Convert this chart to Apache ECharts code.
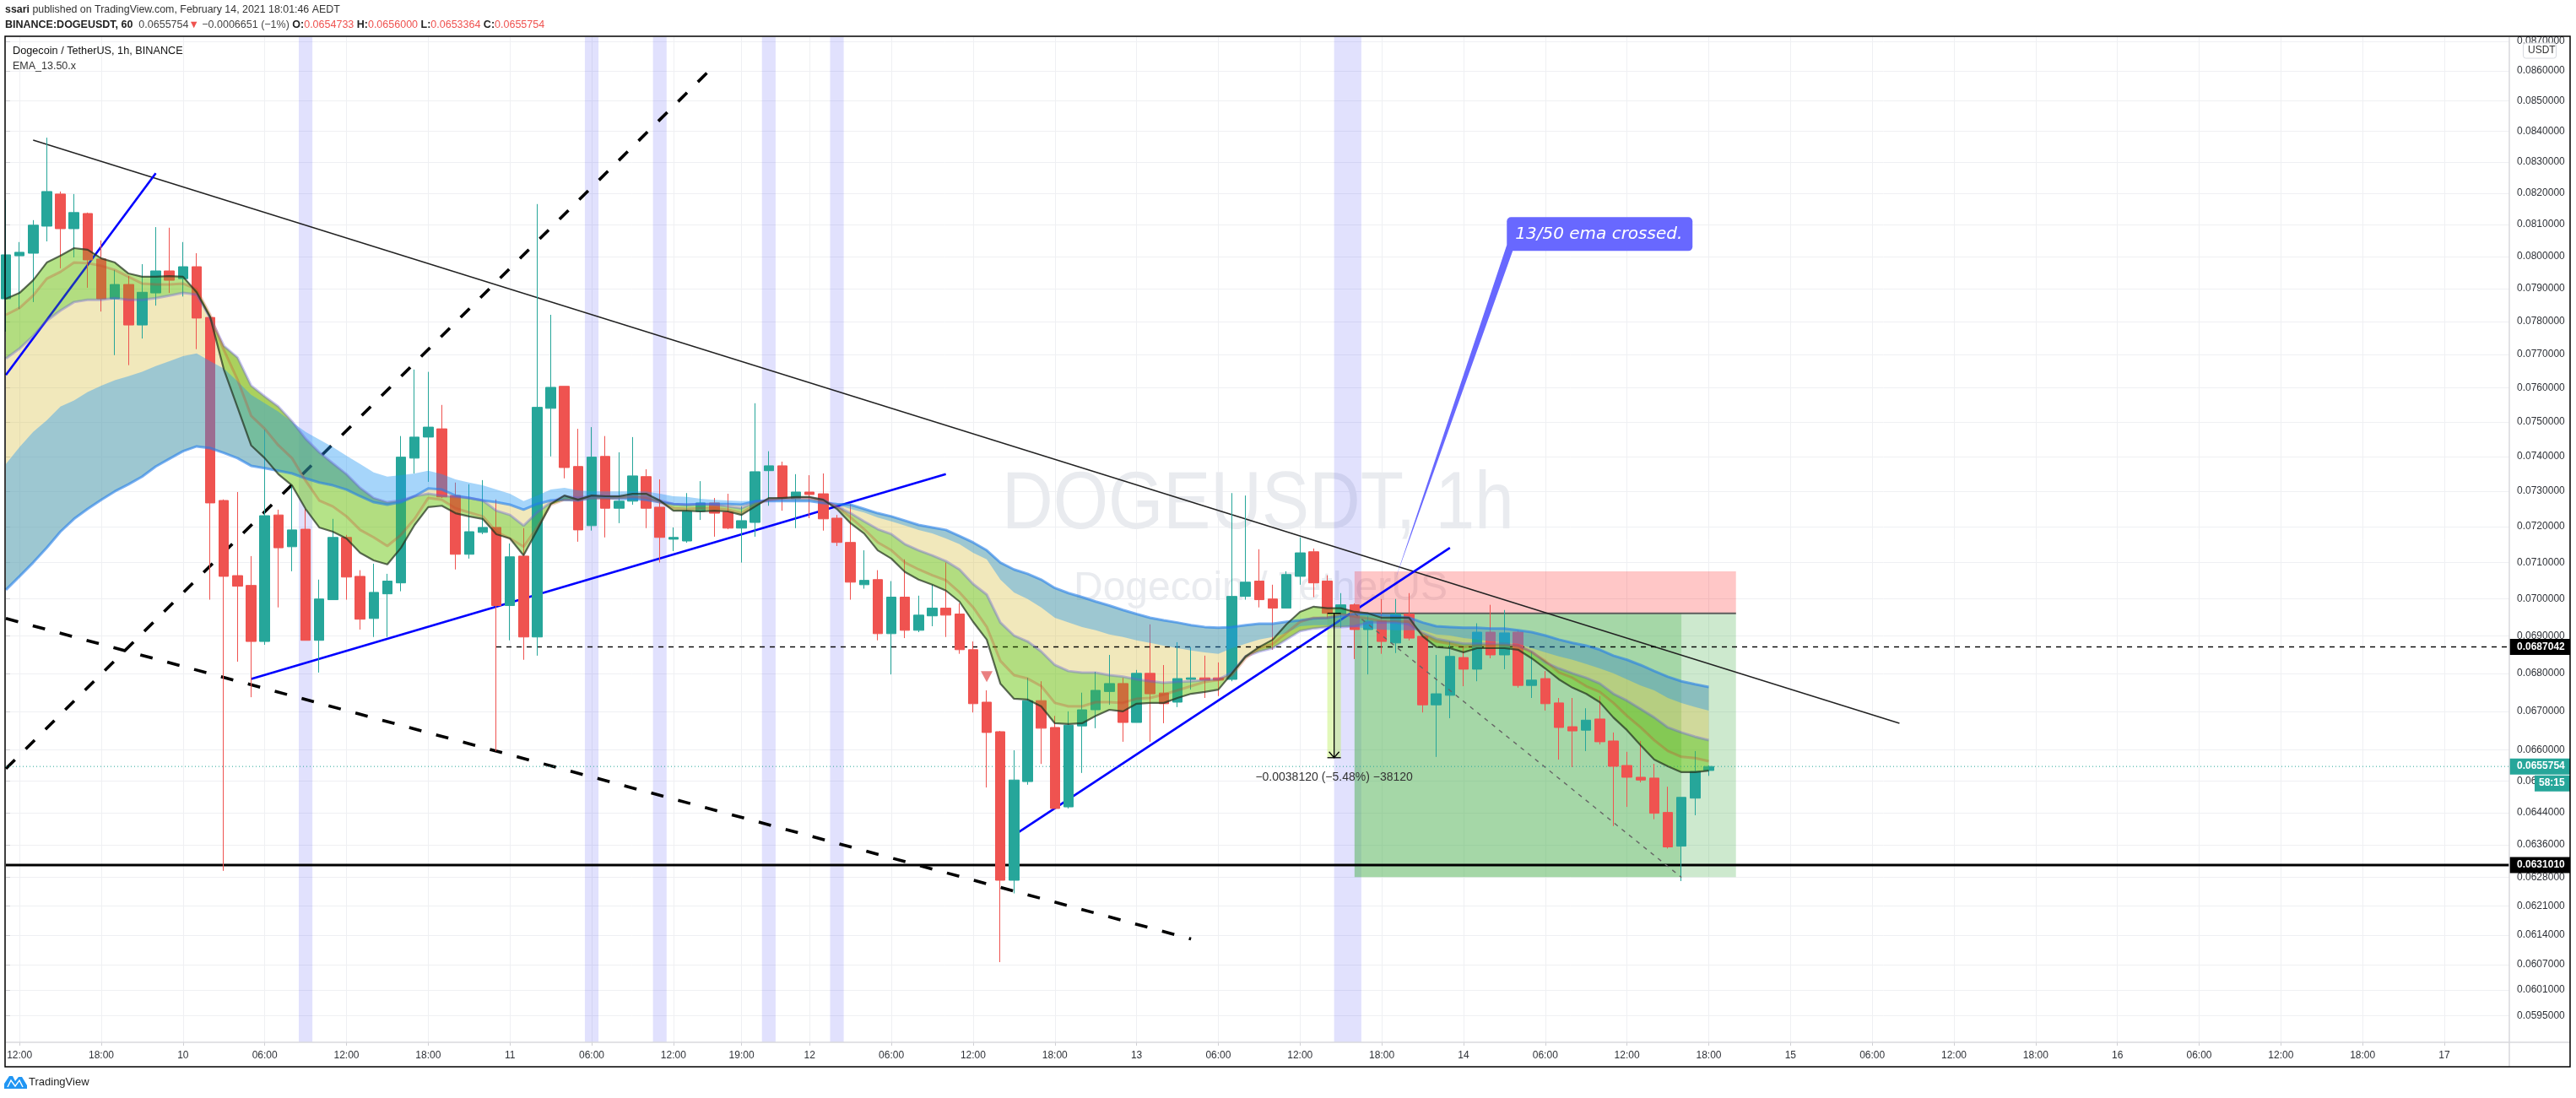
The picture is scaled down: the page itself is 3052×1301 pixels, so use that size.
<!DOCTYPE html>
<html>
<head>
<meta charset="utf-8">
<style>html,body{margin:0;padding:0;background:#fff}#c{width:3052px;height:1301px}</style>
<script src="https://cdn.jsdelivr.net/npm/echarts@6/dist/echarts.min.js"></script>
</head>
<body>
<div id="c"></div>
<script>
// ---- hourly candles (index = bar number, bar 1 = Feb 9 12:00) ----
const opens=[0.07869,0.08002,0.08010,0.08095,0.08197,0.08087,0.08135,0.07992,0.07869,0.07913,
0.07789,0.07887,0.07955,0.07931,0.07968,0.07812,0.07274,0.07064,0.07037,0.06885,
0.07233,0.07144,0.07193,0.06888,0.06998,0.07170,0.07062,0.06947,0.07014,0.07044,
0.07395,0.07456,0.07480,0.07288,0.07123,0.07184,0.07198,0.06982,0.07118,0.06897,
0.07540,0.07605,0.07371,0.07203,0.07400,0.07252,0.07272,0.07342,0.07255,0.07165,
0.07160,0.07243,0.07267,0.07241,0.07196,0.07212,0.07359,0.07373,0.07279,0.07298,
0.07293,0.07224,0.07156,0.07039,0.07053,0.06906,0.07005,0.06915,0.06954,0.06975,
0.06959,0.06863,0.06724,0.06647,0.06273,0.06519,0.06728,0.06658,0.06455,0.06662,
0.06704,0.06752,0.06773,0.06671,0.06800,0.06748,0.06724,0.06784,0.06788,0.06788,
0.06784,0.07007,0.07049,0.07000,0.06975,0.07062,0.07130,0.07049,0.06959,0.06984,
0.06917,0.06940,0.06881,0.06959,0.06899,0.06717,0.06742,0.06842,0.06811,0.06910,
0.06849,0.06910,0.06768,0.06786,0.06722,0.06660,0.06651,0.06680,0.06623,0.06560,
0.06530,0.06528,0.06441,0.06357,0.06477,0.0654733];
const closes=[0.08005,0.08013,0.08098,0.08205,0.08087,0.08138,0.07989,0.07869,0.07913,0.07789,
0.07889,0.07955,0.07926,0.07968,0.07810,0.07267,0.07062,0.07035,0.06885,0.07231,
0.07141,0.07191,0.06888,0.07000,0.07170,0.07060,0.06945,0.07018,0.07049,0.07398,
0.07456,0.07485,0.07284,0.07123,0.07186,0.07198,0.06982,0.07116,0.06897,0.07543,
0.07602,0.07368,0.07191,0.07398,0.07252,0.07272,0.07344,0.07252,0.07170,0.07170,
0.07243,0.07267,0.07238,0.07196,0.07217,0.07356,0.07373,0.07281,0.07298,0.07291,
0.07222,0.07156,0.07046,0.07051,0.06906,0.07005,0.06915,0.06956,0.06975,0.06956,
0.06863,0.06720,0.06645,0.06273,0.06523,0.06728,0.06656,0.06451,0.06664,0.06704,
0.06755,0.06773,0.06671,0.06800,0.06746,0.06720,0.06786,0.06788,0.06782,0.06782,
0.07007,0.07046,0.06998,0.06975,0.07067,0.07127,0.07044,0.06961,0.06984,0.06917,
0.06940,0.06885,0.06959,0.06894,0.06717,0.06746,0.06845,0.06811,0.06910,0.06849,
0.06908,0.06768,0.06782,0.06720,0.06658,0.06649,0.06677,0.06621,0.06558,0.06530,
0.06523,0.06439,0.06355,0.06479,0.06545,0.0655754];
const lows=[0.07769,0.07838,0.07859,0.08047,0.07963,0.07997,0.07903,0.07830,0.07698,0.07668,
0.07748,0.07848,0.07887,0.07876,0.07716,0.06998,0.06296,0.06831,0.06737,0.06876,
0.06977,0.07076,0.06888,0.06802,0.06998,0.06998,0.06917,0.06897,0.06897,0.07021,
0.07351,0.07327,0.07281,0.07081,0.07111,0.07179,0.06597,0.06888,0.06836,0.06847,
0.07400,0.07337,0.07158,0.07189,0.07170,0.07210,0.07262,0.07196,0.07100,0.07132,
0.07155,0.07219,0.07172,0.07193,0.07100,0.07172,0.07259,0.07245,0.07196,0.07224,
0.07189,0.07146,0.06998,0.07028,0.06888,0.06797,0.06894,0.06910,0.06926,0.06897,
0.06852,0.06697,0.06504,0.06076,0.06241,0.06511,0.06564,0.06451,0.06451,0.06541,
0.06656,0.06717,0.06621,0.06671,0.06621,0.06669,0.06711,0.06757,0.06735,0.06740,
0.06779,0.06998,0.06977,0.06863,0.06975,0.07039,0.07005,0.06947,0.06922,0.06838,
0.06797,0.06852,0.06854,0.06888,0.06697,0.06582,0.06682,0.06766,0.06779,0.06840,
0.06811,0.06762,0.06735,0.06702,0.06575,0.06556,0.06597,0.06614,0.06407,0.06455,
0.06517,0.06424,0.06351,0.06271,0.06434,0.0653364];
const highs=[0.08178,0.08045,0.08114,0.08379,0.08205,0.08197,0.08138,0.08050,0.07958,0.07939,
0.07976,0.08092,0.08090,0.08045,0.08010,0.07812,0.07277,0.07298,0.07118,0.07478,
0.07248,0.07315,0.07250,0.07053,0.07222,0.07177,0.07079,0.07097,0.07069,0.07459,
0.07655,0.07648,0.07550,0.07325,0.07320,0.07332,0.07277,0.07153,0.07196,0.08165,
0.07820,0.07605,0.07480,0.07485,0.07459,0.07412,0.07456,0.07363,0.07334,0.07198,
0.07295,0.07329,0.07281,0.07293,0.07257,0.07555,0.07415,0.07385,0.07349,0.07346,
0.07351,0.07233,0.07264,0.07134,0.07079,0.07049,0.07109,0.07009,0.07039,0.07100,
0.06988,0.06885,0.06755,0.06649,0.06599,0.06788,0.06779,0.06688,0.06700,0.06749,
0.06804,0.06849,0.06788,0.06809,0.06931,0.06822,0.06883,0.06870,0.06847,0.06829,
0.07295,0.07288,0.07137,0.07039,0.07076,0.07170,0.07139,0.07065,0.07016,0.06988,
0.06954,0.07000,0.07000,0.07016,0.06899,0.06849,0.06885,0.06867,0.06934,0.06984,
0.06970,0.06915,0.06858,0.06806,0.06735,0.06735,0.06708,0.06740,0.06645,0.06595,
0.06623,0.06564,0.06506,0.06479,0.06597,0.0656000];

// ---- EMA ribbon lines ----
const emaFast=[0.07869,0.07887,0.07926,0.07981,0.08002,0.08026,0.08021,0.07994,0.07981,0.07947,
0.07937,0.07937,0.07939,0.07937,0.07889,0.07812,0.07655,0.07543,0.07432,0.07395,
0.07349,0.07317,0.07250,0.07198,0.07186,0.07167,0.07127,0.07106,0.07095,0.07141,
0.07205,0.07255,0.07259,0.07238,0.07229,0.07222,0.07179,0.07167,0.07120,0.07191,
0.07264,0.07288,0.07276,0.07288,0.07286,0.07286,0.07293,0.07293,0.07274,0.07245,
0.07245,0.07243,0.07245,0.07243,0.07233,0.07257,0.07281,0.07281,0.07284,0.07284,
0.07276,0.07250,0.07210,0.07181,0.07134,0.07111,0.07074,0.07053,0.07039,0.07023,
0.06993,0.06938,0.06890,0.06773,0.06733,0.06731,0.06713,0.06669,0.06667,0.06669,
0.06688,0.06704,0.06700,0.06720,0.06722,0.06722,0.06735,0.06746,0.06751,0.06757,
0.06800,0.06845,0.06870,0.06890,0.06931,0.06965,0.06979,0.06975,0.06975,0.06965,
0.06961,0.06949,0.06949,0.06949,0.06899,0.06870,0.06867,0.06856,0.06867,0.06867,
0.06867,0.06863,0.06840,0.06813,0.06784,0.06762,0.06746,0.06724,0.06684,0.06651,
0.06612,0.06575,0.06558,0.06543,0.06543,0.06547];
const emaSecond=[0.07820,0.07841,0.07879,0.07931,0.07952,0.07981,0.07979,0.07971,0.07958,0.07937,
0.07916,0.07913,0.07913,0.07916,0.07898,0.07820,0.07713,0.07625,0.07518,0.07480,
0.07432,0.07395,0.07330,0.07274,0.07257,0.07229,0.07191,0.07170,0.07146,0.07177,
0.07222,0.07281,0.07276,0.07252,0.07240,0.07229,0.07186,0.07167,0.07144,0.07198,
0.07262,0.07276,0.07276,0.07281,0.07279,0.07281,0.07284,0.07281,0.07269,0.07252,
0.07250,0.07252,0.07252,0.07248,0.07238,0.07262,0.07276,0.07281,0.07281,0.07281,
0.07272,0.07257,0.07226,0.07193,0.07156,0.07134,0.07100,0.07081,0.07065,0.07051,
0.07018,0.06977,0.06924,0.06833,0.06795,0.06786,0.06766,0.06722,0.06713,0.06713,
0.06724,0.06724,0.06722,0.06733,0.06735,0.06744,0.06755,0.06766,0.06777,0.06782,
0.06795,0.06840,0.06867,0.06879,0.06908,0.06938,0.06949,0.06949,0.06959,0.06952,
0.06947,0.06940,0.06940,0.06938,0.06904,0.06885,0.06879,0.06870,0.06874,0.06874,
0.06874,0.06874,0.06856,0.06833,0.06802,0.06788,0.06766,0.06751,0.06722,0.06688,
0.06658,0.06625,0.06597,0.06582,0.06579,0.06571];
const emaThird=[0.07688,0.07718,0.07756,0.07802,0.07833,0.07859,0.07866,0.07866,0.07871,0.07866,
0.07866,0.07871,0.07879,0.07887,0.07882,0.07810,0.07726,0.07691,0.07607,0.07575,
0.07545,0.07502,0.07451,0.07412,0.07380,0.07349,0.07310,0.07281,0.07269,0.07274,
0.07286,0.07293,0.07288,0.07284,0.07281,0.07274,0.07245,0.07233,0.07203,0.07240,
0.07269,0.07286,0.07281,0.07288,0.07286,0.07286,0.07286,0.07284,0.07274,0.07264,
0.07262,0.07264,0.07262,0.07257,0.07252,0.07269,0.07276,0.07279,0.07281,0.07281,
0.07276,0.07257,0.07238,0.07215,0.07193,0.07179,0.07151,0.07134,0.07120,0.07104,
0.07081,0.07041,0.07012,0.06936,0.06901,0.06885,0.06858,0.06822,0.06806,0.06802,
0.06802,0.06795,0.06791,0.06784,0.06779,0.06775,0.06777,0.06779,0.06782,0.06784,
0.06802,0.06845,0.06858,0.06867,0.06890,0.06913,0.06920,0.06924,0.06924,0.06926,
0.06936,0.06936,0.06936,0.06931,0.06908,0.06892,0.06885,0.06879,0.06879,0.06879,
0.06879,0.06874,0.06858,0.06829,0.06813,0.06800,0.06788,0.06773,0.06746,0.06728,
0.06706,0.06684,0.06658,0.06645,0.06634,0.06625];
const emaHidden=[0.07378,0.07427,0.07471,0.07505,0.07545,0.07563,0.07588,0.07607,0.07623,0.07635,
0.07648,0.07665,0.07680,0.07695,0.07703,0.07680,0.07658,0.07620,0.07580,0.07555,
0.07530,0.07500,0.07471,0.07449,0.07427,0.07402,0.07378,0.07354,0.07342,0.07346,
0.07351,0.07359,0.07349,0.07334,0.07325,0.07317,0.07305,0.07293,0.07272,0.07288,
0.07305,0.07310,0.07303,0.07300,0.07300,0.07300,0.07300,0.07300,0.07293,0.07286,
0.07284,0.07279,0.07276,0.07274,0.07272,0.07274,0.07279,0.07279,0.07279,0.07279,
0.07276,0.07262,0.07250,0.07240,0.07226,0.07215,0.07203,0.07191,0.07181,0.07167,
0.07151,0.07127,0.07109,0.07053,0.07018,0.07000,0.06977,0.06949,0.06936,0.06924,
0.06915,0.06904,0.06897,0.06888,0.06881,0.06874,0.06867,0.06861,0.06856,0.06852,
0.06867,0.06879,0.06890,0.06897,0.06908,0.06926,0.06929,0.06929,0.06926,0.06924,
0.06920,0.06917,0.06915,0.06915,0.06915,0.06904,0.06901,0.06894,0.06890,0.06885,
0.06883,0.06879,0.06867,0.06856,0.06845,0.06836,0.06825,0.06813,0.06800,0.06784,
0.06768,0.06755,0.06735,0.06722,0.06711,0.06702];
const emaSlow=[0.07025,0.07062,0.07100,0.07141,0.07186,0.07222,0.07250,0.07276,0.07300,0.07320,
0.07342,0.07371,0.07393,0.07415,0.07429,0.07424,0.07410,0.07395,0.07373,0.07366,
0.07359,0.07351,0.07337,0.07325,0.07317,0.07305,0.07286,0.07269,0.07262,0.07269,
0.07286,0.07308,0.07305,0.07288,0.07281,0.07274,0.07269,0.07262,0.07248,0.07264,
0.07274,0.07276,0.07274,0.07281,0.07281,0.07279,0.07279,0.07276,0.07269,0.07264,
0.07262,0.07264,0.07264,0.07264,0.07262,0.07272,0.07272,0.07272,0.07272,0.07272,
0.07267,0.07264,0.07262,0.07250,0.07238,0.07229,0.07217,0.07205,0.07198,0.07191,
0.07174,0.07156,0.07134,0.07100,0.07081,0.07069,0.07053,0.07030,0.07016,0.07005,
0.06993,0.06982,0.06970,0.06959,0.06949,0.06942,0.06936,0.06929,0.06924,0.06922,
0.06924,0.06929,0.06933,0.06933,0.06938,0.06942,0.06947,0.06949,0.06954,0.06959,
0.06959,0.06956,0.06954,0.06949,0.06936,0.06926,0.06924,0.06922,0.06922,0.06920,
0.06920,0.06915,0.06910,0.06901,0.06890,0.06881,0.06874,0.06863,0.06847,0.06836,
0.06822,0.06806,0.06791,0.06779,0.06771,0.06764];

// ---- axes ----
const xTickBars=[1,7,13,19,25,31,37,43,49,54,59,65,71,77,83,89,95,101,107,113,119,125,131,137,143,149,155,161,167,173,179];
const xTickLabels=['12:00','18:00','10','06:00','12:00','18:00','11','06:00','12:00','19:00','12','06:00','12:00','18:00','13','06:00','12:00','18:00','14','06:00','12:00','18:00','15','06:00','12:00','18:00','16','06:00','12:00','18:00','17'];
const yTicks=[0.087,0.086,0.085,0.084,0.083,0.082,0.081,0.08,0.079,0.078,0.077,0.076,0.075,0.074,0.073,0.072,0.071,0.07,0.069,0.068,0.067,0.066,0.0652,0.0644,0.0636,0.0628,0.0621,0.0614,0.0607,0.0601,0.0595];
const barsMax=183.77, priceMin=0.05889, priceMax=0.08714;

// ---- drawings, in [bar, price] ----
const trendThin=[[2,0.08371],[139,0.06669]];
const trendBlueA=[[0,0.07639],[11,0.08264]];
const trendBlueB=[[18,0.06785],[69,0.07349]];
const trendBlueC=[[74,0.06384],[106,0.07141]];
const trendDashUp=[[0,0.06552],[51.5,0.08595]];
const trendDashDown=[[0,0.06947],[87,0.06131]];
const levelSolid=[[0,0.063101],[barsMax,0.063101]];
const levelDashed=[[36,0.0687042],[barsMax,0.0687042]];
const levelLast=[[0,0.0655754],[barsMax,0.0655754]];
const positionPath=[[99,0.06961],[123,0.0628]];
const entryLine=[[99,0.06961],[127,0.06961]];
const signalMarker=[[72,0.06791]];
const calloutTip=[[102,0.07054]];
const measureBar=97.5, measureTop=0.06961, measureBottom=0.0658;

// ---- shaded zones: bar from, bar to, price top, price bottom, colour ----
const zoneFrom=[21.5,42.5,47.5,55.5,60.5,97.5,97,99,99,123];
const zoneTo=[22.5,43.5,48.5,56.5,61.5,99.5,98,127,123,127];
const zoneTop=[priceMax,priceMax,priceMax,priceMax,priceMax,priceMax,0.06961,0.07076,0.06961,0.06961];
const zoneBottom=[priceMin,priceMin,priceMin,priceMin,priceMin,priceMin,0.0658,0.06961,0.06281,0.06281];
const zoneColors=['rgba(70,70,240,.16)','rgba(70,70,240,.16)','rgba(70,70,240,.16)','rgba(70,70,240,.16)','rgba(70,70,240,.16)','rgba(70,70,240,.16)','rgba(190,240,100,.45)','rgba(255,0,0,.22)','rgba(76,175,80,.5)','rgba(76,175,80,.28)'];

// ---- price tags on the axis ----
const tagPrices=[0.0687042,0.0655754,0.063101];
const tagTexts=['0.0687042','0.0655754','0.0631010'];
const tagColors=['#000000','#26a69a','#000000'];

const UP='#26a69a', DOWN='#ef5350';
const FONT='"Liberation Sans", Arial, sans-serif';

const candleRows=opens.map((o,i)=>[i,o,closes[i],lows[i],highs[i]]);

function band(name,upper,lower,color,z){
  const rows=upper.map((v,i)=>[i,v,lower[i]]);
  return {name,type:'custom',z,silent:true,clip:true,progressive:0,data:rows,encode:{x:0,y:[1,2]},
    renderItem(params,api){
      if(params.dataIndex!==0) return null;
      const pts=[];
      for(let i=0;i<rows.length;i++) pts.push(api.coord([rows[i][0],rows[i][1]]));
      for(let i=rows.length-1;i>=0;i--) pts.push(api.coord([rows[i][0],rows[i][2]]));
      return {type:'polygon',shape:{points:pts},style:{fill:color}};
    }};
}
function emaLine(name,vals,color,width){
  return {name,type:'line',z:5,silent:true,symbol:'none',data:vals.map((v,i)=>[i,v]),lineStyle:{color,width},clip:true};
}
function seg(name,data,color,width,type,z){
  return {name,type:'line',z:z||3,silent:true,symbol:'none',data,lineStyle:{color,width,type:type||'solid',cap:'butt'},clip:true};
}

const option={
  animation:false,
  backgroundColor:'#fff',
  grid:{left:7,right:79,top:44,bottom:66,containLabel:false},
  xAxis:{type:'value',min:0,max:barsMax,
    axisLine:{show:false},
    axisTick:{show:true,length:4,lineStyle:{color:'#cfcfd4'},customValues:xTickBars},
    axisLabel:{customValues:xTickBars,margin:10,fontFamily:FONT,fontSize:12,color:'#2f3238',
      formatter:v=>xTickLabels[xTickBars.indexOf(Math.round(v))]},
    splitLine:{show:true,lineStyle:{color:'#eff0f3',width:1}}},
  yAxis:{type:'log',logBase:10,position:'right',min:priceMin,max:priceMax,
    axisLine:{show:false},
    axisTick:{show:true,length:5,lineStyle:{color:'#cfcfd4'},customValues:yTicks},
    axisLabel:{customValues:yTicks,margin:9,fontFamily:FONT,fontSize:12,color:'#2f3238',
      formatter:v=>Number(v).toFixed(7)},
    splitLine:{show:true,lineStyle:{color:'#eff0f3',width:1}}},
  series:[
    {name:'zones',type:'custom',z:1,silent:true,clip:true,progressive:0,
      data:zoneFrom.map((f,i)=>[f,zoneTop[i],zoneTo[i],zoneBottom[i]]),encode:{x:[0,2],y:[1,3]},
      renderItem(params,api){
        const a=api.coord([api.value(0),api.value(1)]), b=api.coord([api.value(2),api.value(3)]);
        return {type:'rect',shape:{x:a[0],y:a[1],width:b[0]-a[0],height:b[1]-a[1]},style:{fill:zoneColors[params.dataIndex]}};
      }},
    band('cream',emaThird,emaSlow,'rgba(215,190,60,.35)',2),
    band('greenHiUnder',emaFast,emaSecond,'rgba(107,199,17,.33)',2),
    band('greenLoUnder',emaSecond,emaThird,'rgba(101,187,0,.33)',2),
    seg('entry',entryLine,'#5c5c5c',2,'solid',2),
    {name:'DOGEUSDT',type:'candlestick',z:3,silent:true,barWidth:12,data:candleRows,encode:{x:0,y:[1,2,3,4]},
      itemStyle:{color:UP,color0:DOWN,borderColor:UP,borderColor0:DOWN,borderWidth:1}},
    band('greenHiOver',emaFast,emaSecond,'rgba(107,199,17,.25)',4),
    band('greenLoOver',emaSecond,emaThird,'rgba(101,187,0,.25)',4),
    band('blue',emaHidden,emaSlow,'rgba(33,150,243,.4)',4),
    emaLine('ema5',emaSlow,'rgba(33,125,235,.6)',3),
    emaLine('ema3',emaThird,'rgba(100,90,220,.38)',3),
    emaLine('ema2',emaSecond,'rgba(205,70,40,.3)',3),
    emaLine('ema1',emaFast,'rgba(35,50,30,.72)',2.2),
    seg('trendThin',trendThin,'#222',1.5),
    seg('trendBlueA',trendBlueA,'#0000ff',2.6),
    seg('trendBlueB',trendBlueB,'#0000ff',2.6),
    seg('trendBlueC',trendBlueC,'#0000ff',2.6),
    seg('trendDashUp',trendDashUp,'#000',3.6,[15,18]),
    seg('trendDashDown',trendDashDown,'#000',3.6,[15,18]),
    seg('levelSolid',levelSolid,'#000',3,'solid',3),
    seg('levelDashed',levelDashed,'#000',1.4,[6,6],3),
    seg('levelLast',levelLast,UP,1,[1,3],3),
    seg('positionPath',positionPath,'#666',1.4,[5,6],5),
    {name:'signal',type:'scatter',z:5,silent:true,symbol:'triangle',symbolRotate:180,symbolSize:[14,13],
      data:signalMarker,itemStyle:{color:'rgba(224,70,70,.85)'}},
    {name:'measure',type:'custom',z:6,silent:true,progressive:0,
      data:[[measureBar,measureTop,measureBottom]],encode:{x:0,y:[1,2]},
      renderItem(params,api){
        const t=api.coord([api.value(0),api.value(1)]), b=api.coord([api.value(0),api.value(2)]);
        const ls={stroke:'#000',lineWidth:1.3,fill:null};
        return {type:'group',children:[
          {type:'line',shape:{x1:t[0],y1:t[1],x2:b[0],y2:b[1]},style:ls},
          {type:'line',shape:{x1:t[0]-8,y1:t[1],x2:t[0]+8,y2:t[1]},style:ls},
          {type:'line',shape:{x1:b[0]-8,y1:b[1],x2:b[0]+8,y2:b[1]},style:ls},
          {type:'polyline',shape:{points:[[b[0]-6,b[1]-7],[b[0],b[1]],[b[0]+6,b[1]-7]]},style:ls},
          {type:'text',style:{x:b[0],y:b[1]+23,text:'\u22120.0038120 (\u22125.48%) \u221238120',align:'center',verticalAlign:'middle',font:'14px '+FONT,fill:'#333'}}
        ]};
      }},
    {name:'callout',type:'custom',z:7,silent:true,progressive:0,data:calloutTip,encode:{x:0,y:1},
      renderItem(params,api){
        const p=api.coord([api.value(0),api.value(1)]);
        const c='#6868ff';
        return {type:'group',children:[
          {type:'polygon',shape:{points:[[p[0],p[1]],[p[0]+132,p[1]-396],[p[0]+139,p[1]-389]]},style:{fill:c}},
          {type:'rect',shape:{x:p[0]+132,y:p[1]-429,width:220,height:40,r:5},style:{fill:c}},
          {type:'text',style:{x:p[0]+142,y:p[1]-409,text:'13/50 ema crossed.',verticalAlign:'middle',align:'left',font:'italic 20px "DejaVu Sans"',fill:'#fff'}}
        ]};
      }},
    {name:'tags',type:'custom',z:9,silent:true,clip:false,progressive:0,
      data:tagPrices.map((p)=>[0,p]),encode:{x:0,y:1},
      renderItem(params,api){
        const y=api.coord([0,api.value(1)])[1], x=params.coordSys.x+params.coordSys.width;
        const i=params.dataIndex, kids=[
          {type:'rect',shape:{x:x,y:y-9.5,width:72,height:19},style:{fill:tagColors[i]}},
          {type:'text',style:{x:x+9,y:y,text:tagTexts[i],verticalAlign:'middle',align:'left',font:'bold 12px '+FONT,fill:'#fff'}}];
        if(i===1){
          kids.push({type:'rect',shape:{x:x+30,y:y+10.5,width:42,height:19},style:{fill:tagColors[i]}});
          kids.push({type:'text',style:{x:x+35,y:y+20,text:'58:15',verticalAlign:'middle',align:'left',font:'bold 12px '+FONT,fill:'#fff'}});
        }
        return {type:'group',children:kids};
      }}
  ],
  graphic:{elements:[
    {type:'text',z:1,silent:true,x:1187,y:552,scaleX:0.875,style:{text:'DOGEUSDT, 1h',font:'96px '+FONT,fill:'#e9ebef'}},
    {type:'text',z:1,silent:true,x:1272,y:674,style:{text:'Dogecoin / TetherUS',font:'48px '+FONT,fill:'#e9ebef'}},
    {type:'line',z:20,silent:true,shape:{x1:2973,y1:44,x2:2973,y2:1264},style:{stroke:'#d9d9dc',lineWidth:1.5}},
    {type:'line',z:20,silent:true,shape:{x1:7,y1:1235,x2:3045,y2:1235},style:{stroke:'#d9d9dc',lineWidth:1.5}},
    {type:'rect',z:21,silent:true,shape:{x:6,y:43,width:3039,height:1221},style:{fill:null,stroke:'#000',lineWidth:1.5}},
    {type:'text',z:21,silent:true,x:6,y:6,style:{
      text:'{b|ssari} published on TradingView.com, February 14, 2021 18:01:46 AEDT',
      font:'12.4px '+FONT,fill:'#333',rich:{b:{fontWeight:'bold',fontSize:12.4,fill:'#222'}}}},
    {type:'text',z:21,silent:true,x:6,y:23,style:{
      text:'{b|BINANCE:DOGEUSDT, 60}  {n|0.0655754}{r|\u25BC} {n|\u22120.0006651 (\u22121%)} {b|O:}{r|0.0654733} {b|H:}{r|0.0656000} {b|L:}{r|0.0653364} {b|C:}{r|0.0655754}',
      font:'12.5px '+FONT,fill:'#333',
      rich:{b:{fontWeight:'bold',fontSize:12.5,fill:'#222'},n:{fontSize:12.5,fill:'#444'},r:{fontSize:12.5,fill:DOWN}}}},
    {type:'text',z:21,silent:true,x:15,y:54,style:{text:'Dogecoin / TetherUS, 1h, BINANCE',font:'500 12.7px '+FONT,fill:'#111'}},
    {type:'text',z:21,silent:true,x:15,y:72,style:{text:'EMA_13.50.x',font:'12.5px '+FONT,fill:'#333'}},
    {type:'rect',z:21,silent:true,shape:{x:2989.5,y:51,width:39,height:18,r:3},style:{fill:'#fff',stroke:'#d6d8de',lineWidth:1}},
    {type:'text',z:22,silent:true,x:2995,y:54,style:{text:'USDT',font:'12px '+FONT,fill:'#333'}},
    {type:'polygon',z:21,silent:true,shape:{points:[[5,1290],[5,1284],[11,1275],[15,1275],[18,1281],[22,1276],[26,1276],[32,1286],[32,1290]]},style:{fill:'#2196f3'}},
    {type:'polyline',z:22,silent:true,shape:{points:[[9,1288],[13,1280],[18,1287],[23,1280],[27,1288]]},style:{stroke:'#fff',lineWidth:1.4,fill:null}},
    {type:'text',z:21,silent:true,x:34,y:1276,style:{text:'TradingView',font:'13px '+FONT,fill:'#222'}}
  ]}
};
const chart=echarts.init(document.getElementById('c'),null,{renderer:'canvas',width:3052,height:1301});
chart.setOption(option);
</script>
</body>
</html>
